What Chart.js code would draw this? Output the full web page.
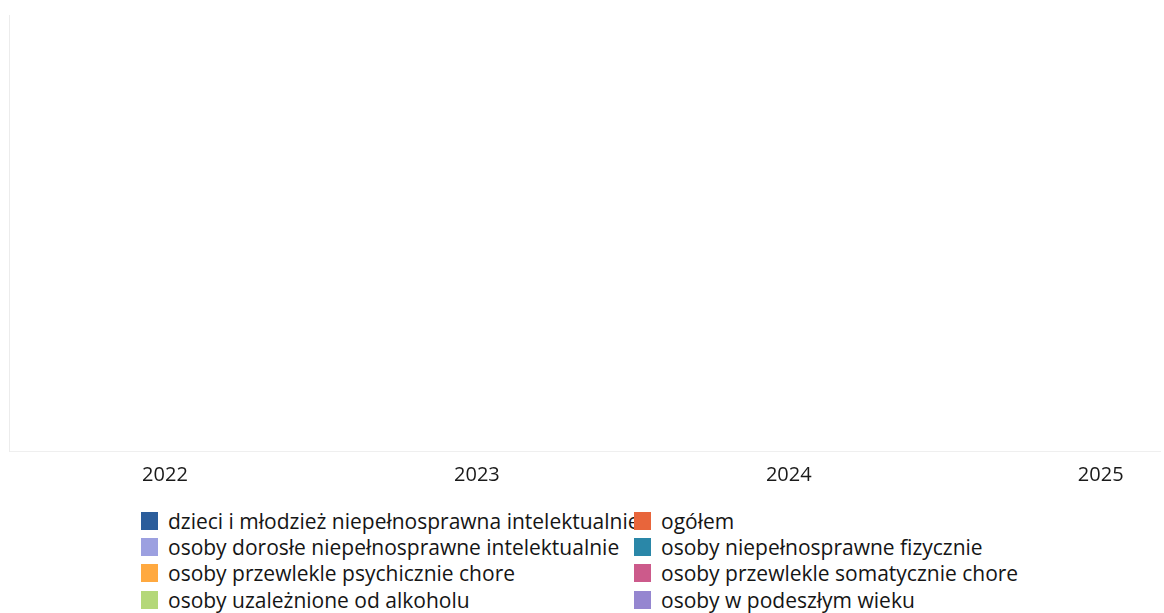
<!DOCTYPE html>
<html lang="pl">
<head>
<meta charset="utf-8">
<title>Liczba osób według grup</title>
<script src="https://cdn.jsdelivr.net/npm/chart.js@4/dist/chart.umd.min.js"></script>
<style>
  html, body { margin: 0; padding: 0; background: #fff; }
  body { width: 1164px; height: 613px; position: relative; overflow: hidden; font-family: "Open Sans", "Noto Sans", sans-serif; }
  #chartBox { position: absolute; left: 0; top: 0; width: 1164px; height: 491px; }
  #legend { position: absolute; left: 141px; top: 508px; display: grid; grid-template-columns: 493px auto; grid-auto-flow: column; grid-template-rows: repeat(4, 26.2px); }
  .item { display: flex; align-items: center; font-size: 21px; color: #151515; white-space: nowrap; line-height: 26px; }
  .box { width: 17px; height: 18px; margin-right: 10px; flex: none; }
</style>
</head>
<body>
<div id="chartBox"><canvas id="chart"></canvas></div>
<div id="legend"></div>
<script>
const years = [2022, 2023, 2024, 2025];
const yearLabels = ["2022", "2023", "2024", "2025"];

const groupNames = [
  "dzieci i młodzież niepełnosprawna intelektualnie",
  "osoby dorosłe niepełnosprawne intelektualnie",
  "osoby przewlekle psychicznie chore",
  "osoby uzależnione od alkoholu",
  "ogółem",
  "osoby niepełnosprawne fizycznie",
  "osoby przewlekle somatycznie chore",
  "osoby w podeszłym wieku"
];

const groupColors = [
  "#2b5d9b", "#9ca0e0", "#ffa940", "#b4d879",
  "#e8653b", "#2a87a8", "#cc5a8b", "#9586d0"
];

// values per group for 2022..2025
const dzieciValues = [0, 0, 0, 0];
const doroslValues = [0, 0, 0, 0];
const psychValues = [0, 0, 0, 0];
const alkoholValues = [0, 0, 0, 0];
const ogolemValues = [0, 0, 0, 0];
const fizyczValues = [0, 0, 0, 0];
const somatValues = [0, 0, 0, 0];
const wiekValues = [0, 0, 0, 0];

const seriesValues = [
  dzieciValues, doroslValues, psychValues, alkoholValues,
  ogolemValues, fizyczValues, somatValues, wiekValues
];

const datasets = groupNames.map((name, i) => ({
  label: name,
  data: years.map((y, j) => ({ x: y, y: seriesValues[i][j] })),
  backgroundColor: groupColors[i],
  borderWidth: 0
}));

const chart = new Chart(document.getElementById("chart"), {
  type: "bar",
  data: { datasets: datasets },
  options: {
    responsive: true,
    maintainAspectRatio: false,
    animation: false,
    layout: { padding: { left: 1, top: 15, right: 4, bottom: 0 } },
    plugins: { legend: { display: false }, tooltip: { enabled: false } },
    scales: {
      x: {
        type: "linear",
        offset: false,
        min: 2021.5,
        max: 2025.19,
        grid: { display: false },
        border: { color: "#efefef", width: 1 },
        afterBuildTicks: (scale) => {
          scale.ticks = years.map(v => ({ value: v }));
        },
        ticks: {
          padding: 4,
          color: "#1a1a1a",
          font: { family: "'Open Sans', 'Noto Sans', sans-serif", size: 20 },
          callback: (value) => yearLabels[years.indexOf(value)] || ""
        }
      },
      y: {
        min: 0,
        max: 100,
        grid: { display: false },
        border: { color: "#ececec", width: 1 },
        ticks: { display: false }
      }
    }
  }
});

// legend built from the chart's own items, laid out in two columns
const legendEl = document.getElementById("legend");
chart.options.plugins.legend.labels.generateLabels(chart).forEach(item => {
  const row = document.createElement("div");
  row.className = "item";
  const box = document.createElement("span");
  box.className = "box";
  box.style.background = item.fillStyle;
  const text = document.createElement("span");
  text.textContent = item.text;
  row.appendChild(box);
  row.appendChild(text);
  legendEl.appendChild(row);
});
</script>
</body>
</html>
